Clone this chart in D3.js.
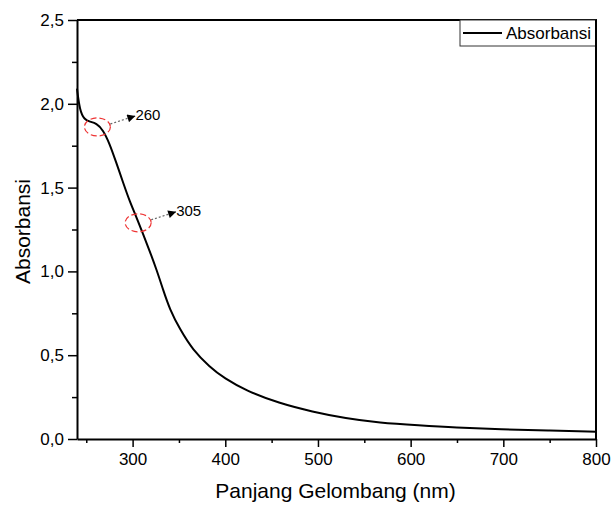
<!DOCTYPE html>
<html>
<head>
<meta charset="utf-8">
<script src="https://cdn.jsdelivr.net/npm/d3@7"></script>
<style>
  body { margin: 0; background: #fff; }
  text { font-family: "Liberation Sans", Arial, sans-serif; fill: #000; }
</style>
</head>
<body>
<div id="chart"></div>
<script>
const FRAME_WIDTH = 613;
const FRAME_HEIGHT = 505;
const MARGINS = {left: 77, right: 17, top: 20, bottom: 66};

const VIS_WIDTH = FRAME_WIDTH - MARGINS.left - MARGINS.right;
const VIS_HEIGHT = FRAME_HEIGHT - MARGINS.top - MARGINS.bottom;

// spectrum
const wavelength = [240, 243, 248, 254, 261, 268, 275, 282, 290, 297, 304, 311, 318, 326,
                    333, 340, 351, 365, 383, 399, 422, 458, 494, 530, 566, 609,
                    648, 698, 748, 800];
const absorbance = [2.09, 1.96, 1.905, 1.893, 1.884, 1.845, 1.765, 1.655, 1.526, 1.416, 1.326,
                    1.227, 1.128, 1.008, 0.889, 0.775, 0.655, 0.531, 0.431, 0.362, 0.29, 0.213,
                    0.163, 0.123, 0.097, 0.081, 0.068, 0.058, 0.05, 0.044];

const xTicks = [300, 400, 500, 600, 700, 800];
const xMinor = [250, 350, 450, 550, 650, 750];
const yTicks = [0, 0.5, 1.0, 1.5, 2.0, 2.5];
const yMinor = [0.25, 0.75, 1.25, 1.75, 2.25];

// marked peaks: wavelength, absorbance at the circle, label
const peaks = [
  {x: 262, y: 1.862, label: "260"},
  {x: 306, y: 1.29, label: "305"}
];

const data = wavelength.map((w, i) => ({x: w, y: absorbance[i]}));

const svg = d3.select("#chart")
  .append("svg")
    .attr("width", FRAME_WIDTH)
    .attr("height", FRAME_HEIGHT);

const x = d3.scaleLinear().domain([240, 800]).range([MARGINS.left, MARGINS.left + VIS_WIDTH]);
const y = d3.scaleLinear().domain([0, 2.5]).range([MARGINS.top + VIS_HEIGHT, MARGINS.top]);

const fmt = d3.format(".1f");
const comma = (d) => fmt(d).replace(".", ",");

// minor ticks first
svg.append("g")
  .attr("transform", `translate(0,${MARGINS.top + VIS_HEIGHT})`)
  .call(d3.axisBottom(x).tickValues(xMinor).tickSize(4).tickFormat(""))
  .call(g => g.select(".domain").remove())
  .selectAll("line").attr("stroke-width", 1.5);

svg.append("g")
  .attr("transform", `translate(${MARGINS.left},0)`)
  .call(d3.axisLeft(y).tickValues(yMinor).tickSize(5).tickFormat(""))
  .call(g => g.select(".domain").remove())
  .selectAll("line").attr("stroke-width", 1.5);

const xAxis = svg.append("g")
  .attr("transform", `translate(0,${MARGINS.top + VIS_HEIGHT})`)
  .call(d3.axisBottom(x).tickValues(xTicks).tickSize(8).tickSizeOuter(0).tickPadding(6));
xAxis.selectAll("text").attr("font-size", 17).attr("font-family", "Liberation Sans, Arial");
xAxis.selectAll("line").attr("stroke-width", 1.5);
xAxis.select(".domain").attr("stroke-width", 2);

const yAxis = svg.append("g")
  .attr("transform", `translate(${MARGINS.left},0)`)
  .call(d3.axisLeft(y).tickValues(yTicks).tickSize(9).tickSizeOuter(0).tickPadding(4).tickFormat(comma));
yAxis.selectAll("text").attr("font-size", 17).attr("font-family", "Liberation Sans, Arial");
yAxis.selectAll("line").attr("stroke-width", 1.5);
yAxis.select(".domain").attr("stroke-width", 2);

// top and right frame
svg.append("path")
  .attr("d", `M${x(240)},${y(2.5)}H${x(800)}V${y(0)}`)
  .attr("fill", "none")
  .attr("stroke", "#000")
  .attr("stroke-width", 2);

// the spectrum
svg.append("path")
  .datum(data)
  .attr("fill", "none")
  .attr("stroke", "#000")
  .attr("stroke-width", 2)
  .attr("d", d3.line().x(d => x(d.x)).y(d => y(d.y)).curve(d3.curveBasis));

// arrow marker
svg.append("defs").append("marker")
  .attr("id", "head")
  .attr("viewBox", "0 0 10 10")
  .attr("refX", 10).attr("refY", 5)
  .attr("markerWidth", 11).attr("markerHeight", 8)
  .attr("markerUnits", "userSpaceOnUse")
  .attr("orient", "auto")
  .append("path")
    .attr("d", "M0,0L10,5L0,10Z")
    .attr("fill", "#000");

peaks.forEach((p) => {
  const cx = x(p.x), cy = y(p.y);
  svg.append("ellipse")
    .attr("cx", cx).attr("cy", cy)
    .attr("rx", 13).attr("ry", 9)
    .attr("fill", "none")
    .attr("stroke", "#ee3333")
    .attr("stroke-width", 1.2)
    .attr("stroke-dasharray", "6,3");
  svg.append("line")
    .attr("x1", cx + 13).attr("y1", cy - 3)
    .attr("x2", cx + 38).attr("y2", cy - 11)
    .attr("stroke", "#666")
    .attr("stroke-width", 1.2)
    .attr("stroke-dasharray", "2,2")
    .attr("marker-end", "url(#head)");
  svg.append("text")
    .attr("x", cx + 38).attr("y", cy - 12)
    .attr("dy", "0.35em")
    .attr("font-size", 15)
    .text(p.label);
});

// legend
const legend = svg.append("g").attr("transform", `translate(${x(800) - 136},${y(2.5)})`);
legend.append("rect")
  .attr("width", 136).attr("height", 26)
  .attr("fill", "#fff")
  .attr("stroke", "#333")
  .attr("stroke-width", 1);
legend.append("line")
  .attr("x1", 3).attr("x2", 42).attr("y1", 13).attr("y2", 13)
  .attr("stroke", "#000").attr("stroke-width", 2);
legend.append("text")
  .attr("x", 46).attr("y", 13).attr("dy", "0.35em")
  .attr("font-size", 17)
  .text("Absorbansi");
// redraw right border over legend box
svg.append("line")
  .attr("x1", x(800)).attr("x2", x(800)).attr("y1", y(2.5)).attr("y2", y(0))
  .attr("stroke", "#000").attr("stroke-width", 2);

// axis titles
svg.append("text")
  .attr("x", MARGINS.left + VIS_WIDTH / 2 - 1)
  .attr("y", 491)
  .attr("dy", "0.35em")
  .attr("text-anchor", "middle")
  .attr("font-size", 21)
  .text("Panjang Gelombang (nm)");

svg.append("text")
  .attr("transform", `translate(30,${MARGINS.top + VIS_HEIGHT / 2 + 2}) rotate(-90)`)
  .attr("text-anchor", "middle")
  .attr("font-size", 21)
  .text("Absorbansi");
</script>
</body>
</html>
